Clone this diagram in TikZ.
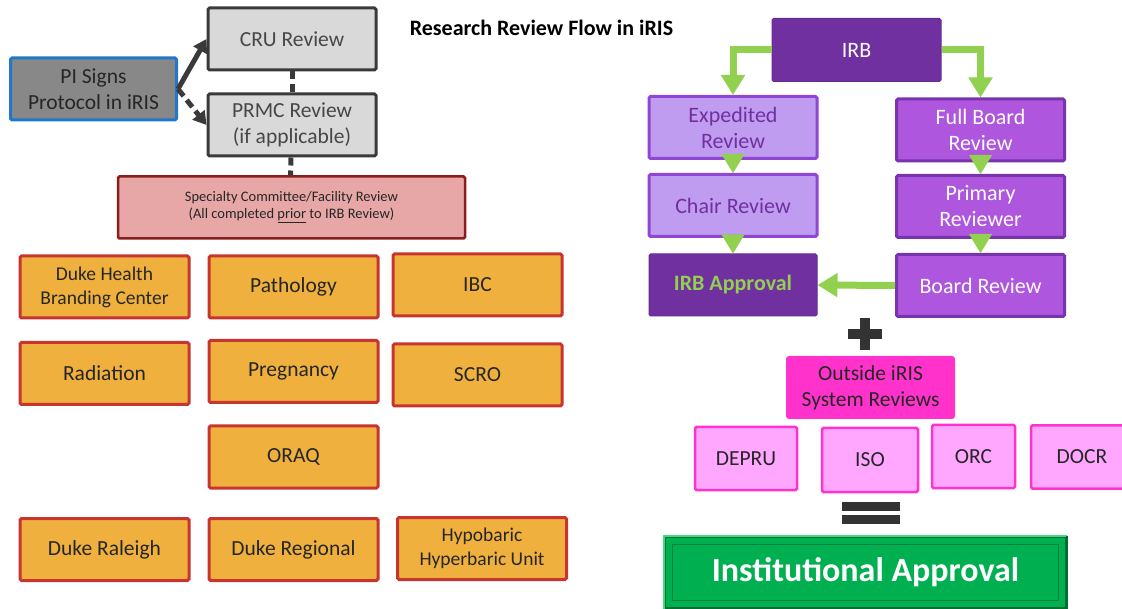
\documentclass[tikz,border=0pt]{standalone}
\usepackage{fontspec}
\setmainfont{Carlito}
\usepackage{tikz}
\usetikzlibrary{positioning,arrows.meta}
\newcommand{\fsz}[2]{\fontsize{#1}{#2}\selectfont}
\definecolor{piFill}{HTML}{888888}
\definecolor{piLine}{HTML}{1F78CC}
\definecolor{cruFill}{HTML}{D9D9D9}
\definecolor{cruLine}{HTML}{3A3A3A}
\definecolor{specFill}{HTML}{E8A7A7}
\definecolor{specLine}{HTML}{8C1D1D}
\definecolor{orgFill}{HTML}{EFB03D}
\definecolor{orgLine}{HTML}{C83530}
\definecolor{irbPurple}{HTML}{7030A0}
\definecolor{expFill}{HTML}{C09CF0}
\definecolor{expLine}{HTML}{9046D4}
\definecolor{fullFill}{HTML}{AE56DD}
\definecolor{fullLine}{HTML}{7833AE}
\definecolor{irbGreen}{HTML}{92D050}
\definecolor{magFill}{HTML}{FF33CC}
\definecolor{pinkFill}{HTML}{FFA6FF}
\definecolor{instFill}{HTML}{00B050}
\definecolor{instDark}{HTML}{006E32}
\definecolor{instLight}{HTML}{3FDC86}
\tikzset{
box/.style={rectangle,minimum width=168pt,minimum height=62pt,inner sep=2pt,align=center,rounded corners=1.5pt,line width=3pt},
pibox/.style={box,fill=piFill,draw=piLine,text=black!85,font=\fsz{21.5}{26}},
crubox/.style={box,fill=cruFill,draw=cruLine,text=black!72,font=\fsz{21.5}{26}},
specbox/.style={box,minimum width=347pt,fill=specFill,draw=specLine,line width=2.5pt,text=black!85,font=\fsz{14.5}{17}},
orgbox/.style={box,minimum width=169pt,fill=orgFill,draw=orgLine,text=black!85,font=\fsz{21.5}{24}},
orgsmall/.style={orgbox,font=\fsz{19.5}{24}},
irbbox/.style={box,minimum width=169pt,minimum height=63pt,fill=irbPurple,draw=irbPurple!90!black,line width=1pt,text=white,font=\fsz{22}{26}},
expbox/.style={box,fill=expFill,draw=expLine,text=irbPurple,font=\fsz{22}{26}},
fullbox/.style={box,fill=fullFill,draw=fullLine,text=white,font=\fsz{22}{26}},
apprbox/.style={box,fill=irbPurple,draw=irbPurple!90!black,line width=1pt,text=irbGreen,font=\fsz{22}{26}\bfseries},
magbox/.style={box,minimum width=169pt,minimum height=63pt,fill=magFill,draw=none,rounded corners=3pt,text=black!85,font=\fsz{21.5}{26}},
pinkbox/.style={box,minimum height=63pt,fill=pinkFill,draw=magFill,line width=2.5pt,text=black!85,font=\fsz{21.5}{24}},
instbox/.style={rectangle,minimum width=401pt,minimum height=71pt,fill=instFill,draw=instDark,line width=1.5pt,text=white,font=\fsz{34}{38}\bfseries},
grayarrow/.style={-{Triangle[length=13pt,width=15pt]},line width=5pt,cruLine},
graydash/.style={line width=5pt,cruLine,dash pattern=on 8pt off 5pt},
greenarrow/.style={-{Triangle[length=20pt,width=23pt]},line width=7pt,irbGreen},
greentip/.style={-{Triangle[length=19pt,width=23pt]},line width=0.1pt,irbGreen},
signbar/.style={fill=black!80}
}
\begin{document}
\begin{tikzpicture}[x=1pt,y=-1pt]
\useasboundingbox (0,0) rectangle (1122,609);

\node[font=\fsz{22}{24}\bfseries] (title) at (541.5,28) {Research Review Flow in iRIS};

% sign-off and early reviews
\node[pibox,minimum width=166pt] (pi) at (93.5,89) {PI Signs\\Protocol in iRIS};
\node[crubox] (cru) at (292,39) {CRU Review};
\node[crubox] (prmc) at (292,125) {PRMC Review\\(if applicable)};
\node[specbox] (spec) at (291.5,207.5) {Specialty Committee/Facility Review\\(All completed \underline{prior} to IRB Review)};
\draw[grayarrow] (pi.east) -- (cru.west);
\draw[grayarrow,dash pattern=on 9pt off 5pt] (pi.east) -- (prmc.west);
\draw[graydash] (cru.south) -- (prmc.north);
\draw[graydash] ([xshift=-1pt]prmc.south) -- ([xshift=-1pt]spec.north);

% specialty committees
\node[orgsmall] (dhbc) at (104.5,287) {Duke Health\\Branding Center};
\node[orgbox] (path) at (293.5,287) {Pathology};
\node[orgbox] (ibc) at (477.5,285) {IBC};
\node[orgbox] (rad) at (104.5,373.5) {Radiation};
\node[orgbox] (preg) at (293.5,371.5) {Pregnancy};
\node[orgbox] (scro) at (477.5,375) {SCRO};
\node[orgbox] (oraq) at (293.5,457) {ORAQ};
\node[orgbox] (rale) at (104.5,549.5) {Duke Raleigh};
\node[orgbox] (regl) at (293.5,549.5) {Duke Regional};
\node[orgsmall] (hypo) at (482,548.5) {Hypobaric\\Hyperbaric Unit};

% IRB track
\node[irbbox] (irb) at (856.5,50) {IRB};
\node[expbox] (exp) at (733,127.5) {Expedited\\Review};
\node[expbox] (chair) at (733,205.5) {Chair Review};
\node[apprbox] (appr) at (733,285) {IRB Approval};
\node[fullbox] (full) at (980.5,130) {Full Board\\Review};
\node[fullbox] (prim) at (980.5,206.5) {Primary\\Reviewer};
\node[fullbox] (board) at (980.5,285.5) {Board Review};
\draw[greenarrow] (irb.west) -| (exp.north);
\draw[greenarrow] (irb.east) -| (full.north);
\draw[greentip] (exp.south) -- (chair.north);
\draw[greentip] (chair.south) -- (appr.north);
\draw[greentip] (full.south) -- (prim.north);
\draw[greentip] (prim.south) -- (board.north);
\draw[greenarrow] (board.west) -- (appr.east);

% plus
\fill[signbar] (848,329) rectangle (882,339);
\fill[signbar] (860,318) rectangle (870,350);

% outside reviews
\node[magbox] (outs) at (870.5,387.5) {Outside iRIS\\System Reviews};
\node[pinkbox,minimum width=102pt] (depru) at (746,458.5) {DEPRU};
\node[pinkbox,minimum width=96pt,minimum height=64pt] (iso) at (870,460) {ISO};
\node[pinkbox,minimum width=83pt] (orc) at (973.5,456.5) {ORC};
\node[pinkbox,minimum width=102pt] (docr) at (1082,457) {DOCR};

% equals
\fill[signbar] (842,502) rectangle (900,511);
\fill[signbar] (842,515) rectangle (900,524);

\node[instbox] (inst) at (865.5,572.5) {Institutional Approval};
\draw[instLight,line width=2pt] (inst.south west) -- (inst.north west) -- (inst.north east);
\draw[instDark,line width=2pt] (inst.north east) -- (inst.south east);
\draw[instDark!70!instFill,line width=1pt] ([shift={(8pt,8pt)}]inst.south west) rectangle ([shift={(-8pt,-8pt)}]inst.north east);
\end{tikzpicture}
\end{document}
